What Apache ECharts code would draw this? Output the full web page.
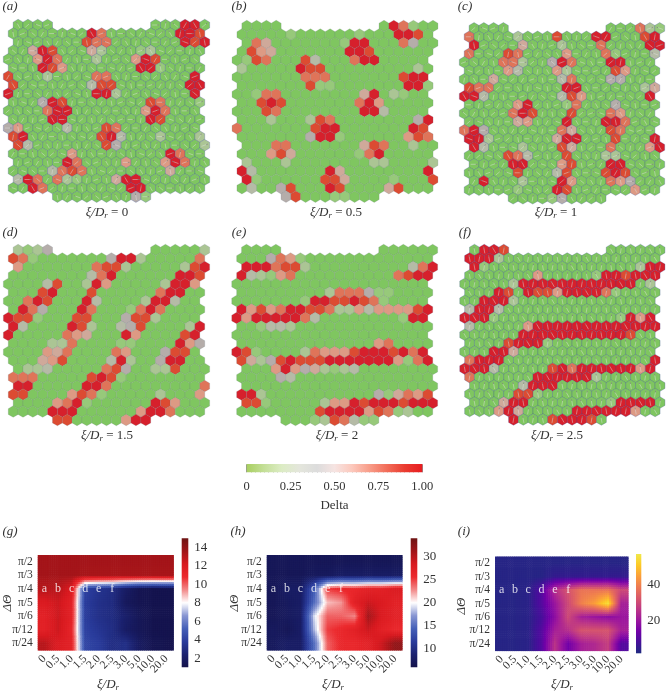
<!DOCTYPE html>
<html>
<head>
<meta charset="utf-8">
<script src="https://cdn.jsdelivr.net/npm/echarts@6/dist/echarts.min.js"></script>
<style>html,body{margin:0;padding:0;background:#fff}#chart{width:667px;height:695px}</style>
</head>
<body>
<div id="chart"></div>
<script>
// hex cell values, digit / 9 ~ Delta, '.' = no cell. groups of 5 are just for counting
var panelA = [
'.0000 ..... ..... 00099 0','00000 00097 00000 00998 .','.0000 00087 70000 00098 9','00598 00052 00012 00000 .',
'00069 70002 00069 80000 .','00098 60000 00099 10000 .','80002 00007 70000 00009 .','80000 00038 80000 00099 .',
'90000 00009 92000 00009 .','00049 80000 00008 70001 .','00007 99000 00006 97000 .','00009 90000 00009 80000 .',
'46000 03000 87000 00000 .','89000 00008 93000 20002 .','.8300 00000 84000 00000 2','00000 06000 00000 09700 .',
'.0000 09700 00600 06970 0','00003 78700 00000 05000 .','.3970 72100 05990 00000 0','00970 00000 00990 00000 .',
'..... 00000 00041 ..... .'];
var panelB = [
'.0000 ..... ..... 09710 0','00000 10000 00100 09980 .','.0750 00000 01990 00740 0','08650 00000 09980 00000 .',
'01870 00830 00799 00000 .','20000 09880 00000 00020 .','00000 00777 00000 00899 .','00000 00811 00000 00991 .',
'00177 00000 00059 02100 .','00898 00000 00796 00000 .','00087 00000 00099 30000 .','00020 00287 00000 00049 .',
'70000 00089 90000 00098 .','00000 00499 10000 00687 .','.0007 70000 00058 70020 0','00068 50000 00179 00000 .',
'.2000 20000 00002 20000 2','93000 00009 50000 00009 .','.9100 00008 85000 01000 8','03004 80009 80000 58000 .',
'..... 48000 11000 ..... .'];
var panelC = [
'.0000 ..... ..... 00072 1','70000 20008 00099 00089 .','.9000 05000 20007 00009 9','70008 70000 60007 10003 .',
'00007 72004 97000 99000 .','00006 30006 20000 86000 .','00050 00000 37000 44000 .','87700 00000 99000 00025 .',
'99300 00000 38600 00009 .','00000 69000 17000 40000 .','00000 79800 08000 76000 .','00000 56000 90009 97000 .',
'79400 00000 75000 87000 .','99200 00005 99000 80009 .','.9300 02000 85000 70006 9','00008 73000 80002 20000 .',
'.0000 99000 68000 99000 0','00000 80003 80008 98000 .','.0900 02000 96000 76400 0','00000 10009 80000 00600 .',
'..... 00001 40000 ..... .'];
var panelD = [
'.2124 ..... ..... 00000 2','87100 00000 49920 00007 .','.6000 00007 88200 00028 9','00000 00037 90000 00998 .',
'00003 80029 60000 02996 .','00089 00080 00000 79900 .','00798 00093 00002 99300 .','09740 00970 00179 70000 .',
'98810 00880 00488 20000 .','93000 09820 03480 00029 .','90000 07650 00960 00089 .','00002 27000 01100 00964 .',
'00006 57000 07600 04880 .','00056 80000 39200 49900 .','.0223 00000 78400 22800 0','77700 00089 81000 00000 .',
'.9900 00099 70000 00000 7','88000 06871 00000 20006 .','.0000 67910 00000 98600 0','00009 99000 00069 97000 .',
'..... 88000 00699 ..... .'];
var panelE = [
'.0000 ..... ..... 00000 0','00047 61000 00000 00000 .','.9997 88200 00000 00037 9','93216 70000 00000 07899 .',
'00000 00000 00000 00000 .','00000 00002 77741 10000 .','00000 00199 88987 10000 .','96867 99887 22636 66689 .',
'96999 99730 00000 00199 .','00133 20000 00000 00000 .','00000 00000 00000 00000 .','00000 00000 00006 70000 .',
'98100 00276 66899 98979 .','85248 98889 99999 96179 .','.0006 96452 12300 00000 0','00004 30000 00000 00000 .',
'.0000 00000 00000 00000 0','99200 00000 00004 15768 .','.8810 00002 66989 99899 9','00000 00089 99968 71200 .',
'..... 00012 87311 ..... .'];
var panelF = [
'.0998 ..... ..... 00000 0','99920 00000 00000 00000 .','.9100 00000 00000 00029 9','00000 00600 00019 98999 .',
'00000 29999 99999 99902 .','00098 09886 99997 10000 .','00999 20000 00000 00000 .','39930 00000 00000 00000 .',
'99910 00000 00000 01969 .','30000 06999 99999 99999 .','00000 09999 99999 99800 .','00008 99910 00000 00000 .',
'00099 50000 00000 00000 .','79990 00000 00000 00009 .','99930 00008 97999 99969 .','70000 00999 99920 00000 .',
'.0000 03999 00000 00000 0','00000 88100 00000 00000 .','.0005 99000 00000 19999 0','00069 50000 09999 99600 .',
'..... 90008 99980 ..... .'];

// director strokes in a, c, f: digit * 20 deg. too small to read cell by cell, so only a rough estimate
var strokesA = [
'362815047263815047362','517304826150738264051','248163705182647031825','730516284073516820463',
'164827350641728305174','805231647083162574038','371640528316407263815','628053174628501347260',
'140736285047316825071','583216407351826043718','267048153720648135062','734160825371046287315',
'051827346158203764180','416305782641537082634','872164053728416350721','305728146037582614803',
'641350827164035728146','287046315820764153082','510738264153608247315','836124057382146705263',
'174605382716450382617'];
var strokesC = [
'728146035827164302518','046382715064283175640','351720864135708246371','608245137680352714082',
'173568024713860245136','825031746258013674821','460782315064728135407','317206485731602846153',
'682450137826451307268','041376825140367285014','735218064573218064735','286407153826047531682',
'510763284015763248107','847125036478215603847','163508274163520874316','328764015237640182573',
'704135628704513268704','561280473516082347156','238647105823764150236','475013862475130826147',
'816352740186325407816'];
var strokesF = [
'455645445654455645465','545456454545645454565','454565445456544565454','565445654544565445654',
'445654545654454565445','654454565445654545654','545645445654456454565','454565454565445645445',
'565445645454565454564','445654565445645465445','654545445654545445654','456454654465454654456',
'545654545445654545465','454465445654465445654','565645454565445654545','445454656445654465454',
'654565445654545445655','546445654465454654445','454654545445654545654','565445465654465445465',
'445654545465445654545'];

var xiLabels = ['0','0.5','1.0','1.5','2.0','2.5','3.0','5.0','10.0','20.0'];
var thetaLabels = ['π/2','π/3','π/4','π/5','π/6','π/12','π/24'];
var runLetters = ['a','b','c','d','e','f'];
var captions = ['0','0.5','1','1.5','2','2.5'];

var heatG = [
[13.5,13.5,13.5,13.5,13.5,13.5,13.5,13.5,13.5,13.5],
[13.5,13.5,13.5,13.4,13.4,13.4,13.4,13.4,13.4,13.4],
[13,13,12,4,3.4,3,2,1.3,1.2,1.2],
[12,12.5,11.5,3.8,3.2,2.9,1.7,1.3,1.2,1.2],
[11.5,12.5,11.5,3.8,3.2,2.9,2.2,1.5,1.2,1.2],
[11.5,12.5,11.2,4,3.5,3,2,1.5,1.2,1.2],
[13,12,11.5,4.2,3.8,3,3.1,1.8,1.3,1.2]];
var heatH = [
[7,7,7,7,7,7,7,7,7,7],
[7,7,7,7.5,7.5,8,8,8,8,8],
[7,8,8,14,25,26,26,27,27,28],
[7,7.5,8,15,21.5,22.5,27,29,28,27],
[7,7.5,8,19,24,24,23,31,28,27],
[7.5,7,8,18,25,26,27,29,27,26],
[7.5,8,8,15,24,26,26,27,29,32]];
var heatI = [
[3,3,3,3,3,3,3,3,3,3],
[3,3,3,3,5,5,5,5,5,5],
[3,3,3.5,10,25,32,38,38,38,30],
[3,3,3.5,10,20,30,40,45,55,22],
[3,3,3.5,8,18,30,22,20,18,20],
[3,3,3.5,10,22,25,32,32,32,22],
[3,3,3.5,10,26,14,22,24,28,10]];

var deltaTicks = [0,0.25,0.5,0.75,1];
var rangeG = [1,15], rangeH = [6,34], rangeI = [1.7,57.4];
var ticksG = [2,4,6,8,10,12,14], ticksH = [10,15,20,25,30], ticksI = [20,40];

var hexColors = ['#7fc660','#97c97a','#abc594','#b5bba6','#b5adaa','#cfa99a','#dd9a84','#df7459','#dc4b32','#d6202c'];
var deltaColors = ['#a8cf60','#c4df98','#dcecc4','#e4e6dc','#dcdcdc','#f6e4e2','#fcc8bc','#f89c88','#f26c58','#ea3c30','#e81c20'];
var redBlue = ['#14124a','#1b2270','#2a3c9c','#4560b8','#8896d2','#ffffff','#f28a8a','#ec2a2e','#d81a20','#a01519','#6e1414'];
var plasma = ['#1f2a80','#46109a','#7201a8','#9c179e','#bd3786','#d8576b','#ed7953','#fb9f3a','#fdca26','#f0e84a'];

var serif = 'Liberation Serif';
var grid = [], xAxis = [], yAxis = [], series = [], graphic = [];

function hexData(rows) {
    var res = [];
    rows.forEach(function (row, r) {
        var cells = row.replace(/ /g, '');
        for (var k = 0; k < cells.length; k++) {
            if (cells[k] === '.') continue;
            res.push([k + (r % 2 ? 0.5 : 0), r, +cells[k]]);
        }
    });
    return res;
}

function strokeData(rows, strokes) {
    return hexData(rows).map(function (d) {
        return [d[0], d[1], +strokes[d[1]][Math.floor(d[0])]];
    });
}

function addHexPanel(rows, strokes, left, top, width, height, edge) {
    var n = grid.length;
    grid.push({left: left, top: top, width: width, height: height});
    xAxis.push({type: 'value', gridIndex: n, min: 0, max: 20, show: false});
    yAxis.push({type: 'value', gridIndex: n, min: 0, max: 20, inverse: true, show: false});
    series.push({
        type: 'scatter',
        xAxisIndex: n,
        yAxisIndex: n,
        data: hexData(rows),
        symbol: 'path://M0,-2 L1.732,-1 L1.732,1 L0,2 L-1.732,1 L-1.732,-1 Z',
        symbolSize: [9.9, 11.5],
        silent: true,
        itemStyle: {
            color: function (p) { return hexColors[p.data[2]]; },
            borderColor: edge,
            borderWidth: 0.5,
            opacity: 1
        }
    });
    if (!strokes) return;
    series.push({
        type: 'custom',
        xAxisIndex: n,
        yAxisIndex: n,
        silent: true,
        z: 4,
        data: strokeData(rows, strokes),
        renderItem: function (params, api) {
            var c = api.coord([api.value(0), api.value(1)]);
            var ang = api.value(2) * 20 * Math.PI / 180;
            var dx = Math.cos(ang) * 3.4, dy = -Math.sin(ang) * 3.4;
            return {
                type: 'group',
                children: [{
                    type: 'line',
                    shape: {x1: c[0] - dx, y1: c[1] - dy, x2: c[0] + dx, y2: c[1] + dy},
                    style: {stroke: 'rgba(225,225,225,0.62)', lineWidth: 0.75}
                }, {
                    type: 'line',
                    shape: {x1: c[0] + dx * 0.5, y1: c[1] + dy * 0.5, x2: c[0] + dx, y2: c[1] + dy},
                    style: {stroke: 'rgba(70,70,70,0.6)', lineWidth: 0.75}
                }]
            };
        }
    });
}

function lookup(colors, t) {
    return echarts.color.lerp(Math.max(0, Math.min(1, t)), colors);
}

function addHeat(matrix, range, colors, left, top, width, height) {
    var n = grid.length;
    grid.push({left: left, top: top, width: width, height: height});
    xAxis.push({
        type: 'category', gridIndex: n, data: xiLabels,
        axisLine: {show: false}, axisTick: {show: false},
        axisLabel: {interval: 0, rotate: 45, fontFamily: serif, fontSize: 11.5, color: '#333', margin: 7}
    });
    yAxis.push({
        type: 'category', gridIndex: n, data: thetaLabels, inverse: true,
        axisLine: {show: false}, axisTick: {show: false},
        axisLabel: {interval: 0, fontFamily: serif, fontSize: 11.5, color: '#333', margin: 5}
    });
    var cells = [];
    matrix.forEach(function (row, j) {
        row.forEach(function (v, i) { cells.push([i, j, v]); });
    });
    var sub = 7;
    series.push({
        type: 'custom',
        xAxisIndex: n,
        yAxisIndex: n,
        silent: true,
        data: cells,
        renderItem: function (params, api) {
            var c = api.coord([api.value(0), api.value(1)]);
            var s = api.size([1, 1]);
            var kids = [];
            for (var a = 0; a < sub; a++) {
                for (var b = 0; b < sub; b++) {
                    var u = Math.max(0, Math.min(9, api.value(0) - 0.5 + (a + 0.5) / sub));
                    var w = Math.max(0, Math.min(6, api.value(1) - 0.5 + (b + 0.5) / sub));
                    var i0 = Math.min(8, Math.floor(u)), j0 = Math.min(5, Math.floor(w));
                    var fu = u - i0, fw = w - j0;
                    var val = (matrix[j0][i0] * (1 - fu) + matrix[j0][i0 + 1] * fu) * (1 - fw) +
                        (matrix[j0 + 1][i0] * (1 - fu) + matrix[j0 + 1][i0 + 1] * fu) * fw;
                    kids.push({
                        type: 'rect',
                        shape: {
                            x: c[0] - s[0] / 2 + a * s[0] / sub,
                            y: c[1] - s[1] / 2 + b * s[1] / sub,
                            width: s[0] / sub + 0.6,
                            height: s[1] / sub + 0.6
                        },
                        style: {fill: lookup(colors, (val - range[0]) / (range[1] - range[0]))}
                    });
                }
            }
            return {type: 'group', children: kids};
        }
    });
    // a..f run labels
    series.push({
        type: 'scatter',
        xAxisIndex: n,
        yAxisIndex: n,
        silent: true,
        symbolSize: 0,
        z: 5,
        data: runLetters.map(function (l, i) { return {value: [i, 2], name: l}; }),
        label: {show: true, position: 'inside', formatter: '{b}', color: '#fff', fontFamily: serif, fontSize: 12}
    });
}

function gradientStops(colors) {
    return colors.map(function (c, i) { return {offset: i / (colors.length - 1), color: c}; });
}

function addColorbar(range, ticks, colors, left, top, width, height) {
    var n = grid.length;
    grid.push({left: left, top: top, width: width, height: height});
    xAxis.push({type: 'value', gridIndex: n, min: 0, max: 1, show: false});
    yAxis.push({
        type: 'value', gridIndex: n, position: 'right', min: range[0], max: range[1],
        splitLine: {show: false},
        axisLine: {show: false},
        axisTick: {show: false},
        axisLabel: {customValues: ticks, fontFamily: serif, fontSize: 13, color: '#333', margin: 6}
    });
    series.push({
        type: 'custom', xAxisIndex: n, yAxisIndex: n, silent: true,
        data: [[0, range[0]]],
        renderItem: function (params, api) {
            var a = api.coord([0, range[1]]), b = api.coord([1, range[0]]);
            return {
                type: 'rect',
                shape: {x: a[0], y: a[1], width: b[0] - a[0], height: b[1] - a[1]},
                style: {fill: new echarts.graphic.LinearGradient(0, 1, 0, 0, gradientStops(colors))}
            };
        }
    });
}

function addDeltaBar(left, top, width, height) {
    var n = grid.length;
    grid.push({left: left, top: top, width: width, height: height});
    xAxis.push({
        type: 'value', gridIndex: n, min: 0, max: 1, interval: 0.25, offset: 4,
        name: 'Delta', nameLocation: 'middle', nameGap: 23,
        nameTextStyle: {fontFamily: serif, fontSize: 13, color: '#333'},
        splitLine: {show: false},
        axisLine: {show: false},
        axisTick: {show: true, inside: true, length: 8, lineStyle: {color: '#777', width: 0.8}},
        minorTick: {show: true, splitNumber: 10, length: 4, lineStyle: {color: '#777', width: 0.8}},
        axisLabel: {
            margin: 4, fontFamily: serif, fontSize: 12.5, color: '#333',
            formatter: function (v) { return v === 0 ? '0' : v.toFixed(2); }
        }
    });
    yAxis.push({type: 'value', gridIndex: n, min: 0, max: 1, show: false});
    series.push({
        type: 'custom', xAxisIndex: n, yAxisIndex: n, silent: true, z: 1,
        data: [[deltaTicks[0], 0]],
        renderItem: function (params, api) {
            var a = api.coord([0, 1]), b = api.coord([1, 0]);
            return {
                type: 'rect',
                shape: {x: a[0], y: a[1], width: b[0] - a[0], height: b[1] - a[1]},
                style: {fill: new echarts.graphic.LinearGradient(0, 0, 1, 0, gradientStops(deltaColors))}
            };
        }
    });
}

function addText(x, y, text, rich, extra) {
    graphic.push(Object.assign({
        type: 'text', x: x, y: y, silent: true,
        style: {text: text, rich: rich, align: 'center', verticalAlign: 'middle', fill: '#333', font: '13px ' + serif}
    }, extra || {}));
}

var mathRich = {
    i: {fontFamily: serif, fontStyle: 'italic', fontSize: 13, color: '#333'},
    s: {fontFamily: serif, fontStyle: 'italic', fontSize: 9, color: '#333', verticalAlign: 'bottom', padding: [5, 0, 0, 0]},
    n: {fontFamily: serif, fontSize: 13, color: '#333'}
};

var edgeBlue = 'rgba(50,70,150,0.5)', edgeGrey = 'rgba(110,125,135,0.4)';
addHexPanel(panelA, strokesA, 8.3, 25, 196.4, 171.7, edgeBlue);
addHexPanel(panelB, null, 237, 26, 196, 170.7, edgeGrey);
addHexPanel(panelC, strokesC, 464.3, 28.3, 195.4, 170, edgeBlue);
addHexPanel(panelD, null, 8.3, 250, 196.4, 170, edgeGrey);
addHexPanel(panelE, null, 236.7, 250, 196, 170, edgeGrey);
addHexPanel(panelF, strokesF, 464.7, 250, 195.3, 169.5, edgeBlue);

addDeltaBar(246.7, 464, 175.6, 8.3);

addHeat(heatG, rangeG, redBlue, 37.7, 555, 135.6, 95);
addColorbar(rangeG, ticksG, redBlue, 181.7, 538.3, 6.6, 129);
addHeat(heatH, rangeH, redBlue, 266.7, 555, 135.3, 95);
addColorbar(rangeH, ticksH, redBlue, 410.7, 538.3, 6.6, 129);
addHeat(heatI, rangeI, plasma, 495, 556.5, 133, 94);
addColorbar(rangeI, ticksI, plasma, 636, 554, 5.3, 99.3);

var tags = [['(a)', 10, 7], ['(b)', 239, 7], ['(c)', 465, 7], ['(d)', 10, 233], ['(e)', 239, 233], ['(f)', 465, 233], ['(g)', 10, 532], ['(h)', 238, 532], ['(i)', 464, 532]];
tags.forEach(function (t) {
    addText(t[1], t[2], '{i|' + t[0] + '}', mathRich);
});

var capX = [107, 336, 556, 107, 337, 557], capY = [213, 213, 213, 436, 436, 436];
captions.forEach(function (c, i) {
    addText(capX[i], capY[i], '{i|ξ/D}{s|r}{n| = ' + c + '}', mathRich);
});

[[108, 685], [333, 685], [562, 685]].forEach(function (p) {
    addText(p[0], p[1], '{i|ξ/D}{s|r}', mathRich);
});
[[8, 603], [235, 603], [462, 606]].forEach(function (p) {
    addText(p[0], p[1], '{i|ΔΘ}', mathRich, {rotation: Math.PI / 2});
});

var chart = echarts.init(document.getElementById('chart'));
chart.setOption({
    animation: false,
    backgroundColor: '#fff',
    grid: grid,
    xAxis: xAxis,
    yAxis: yAxis,
    series: series,
    graphic: graphic
});
</script>
</body>
</html>
